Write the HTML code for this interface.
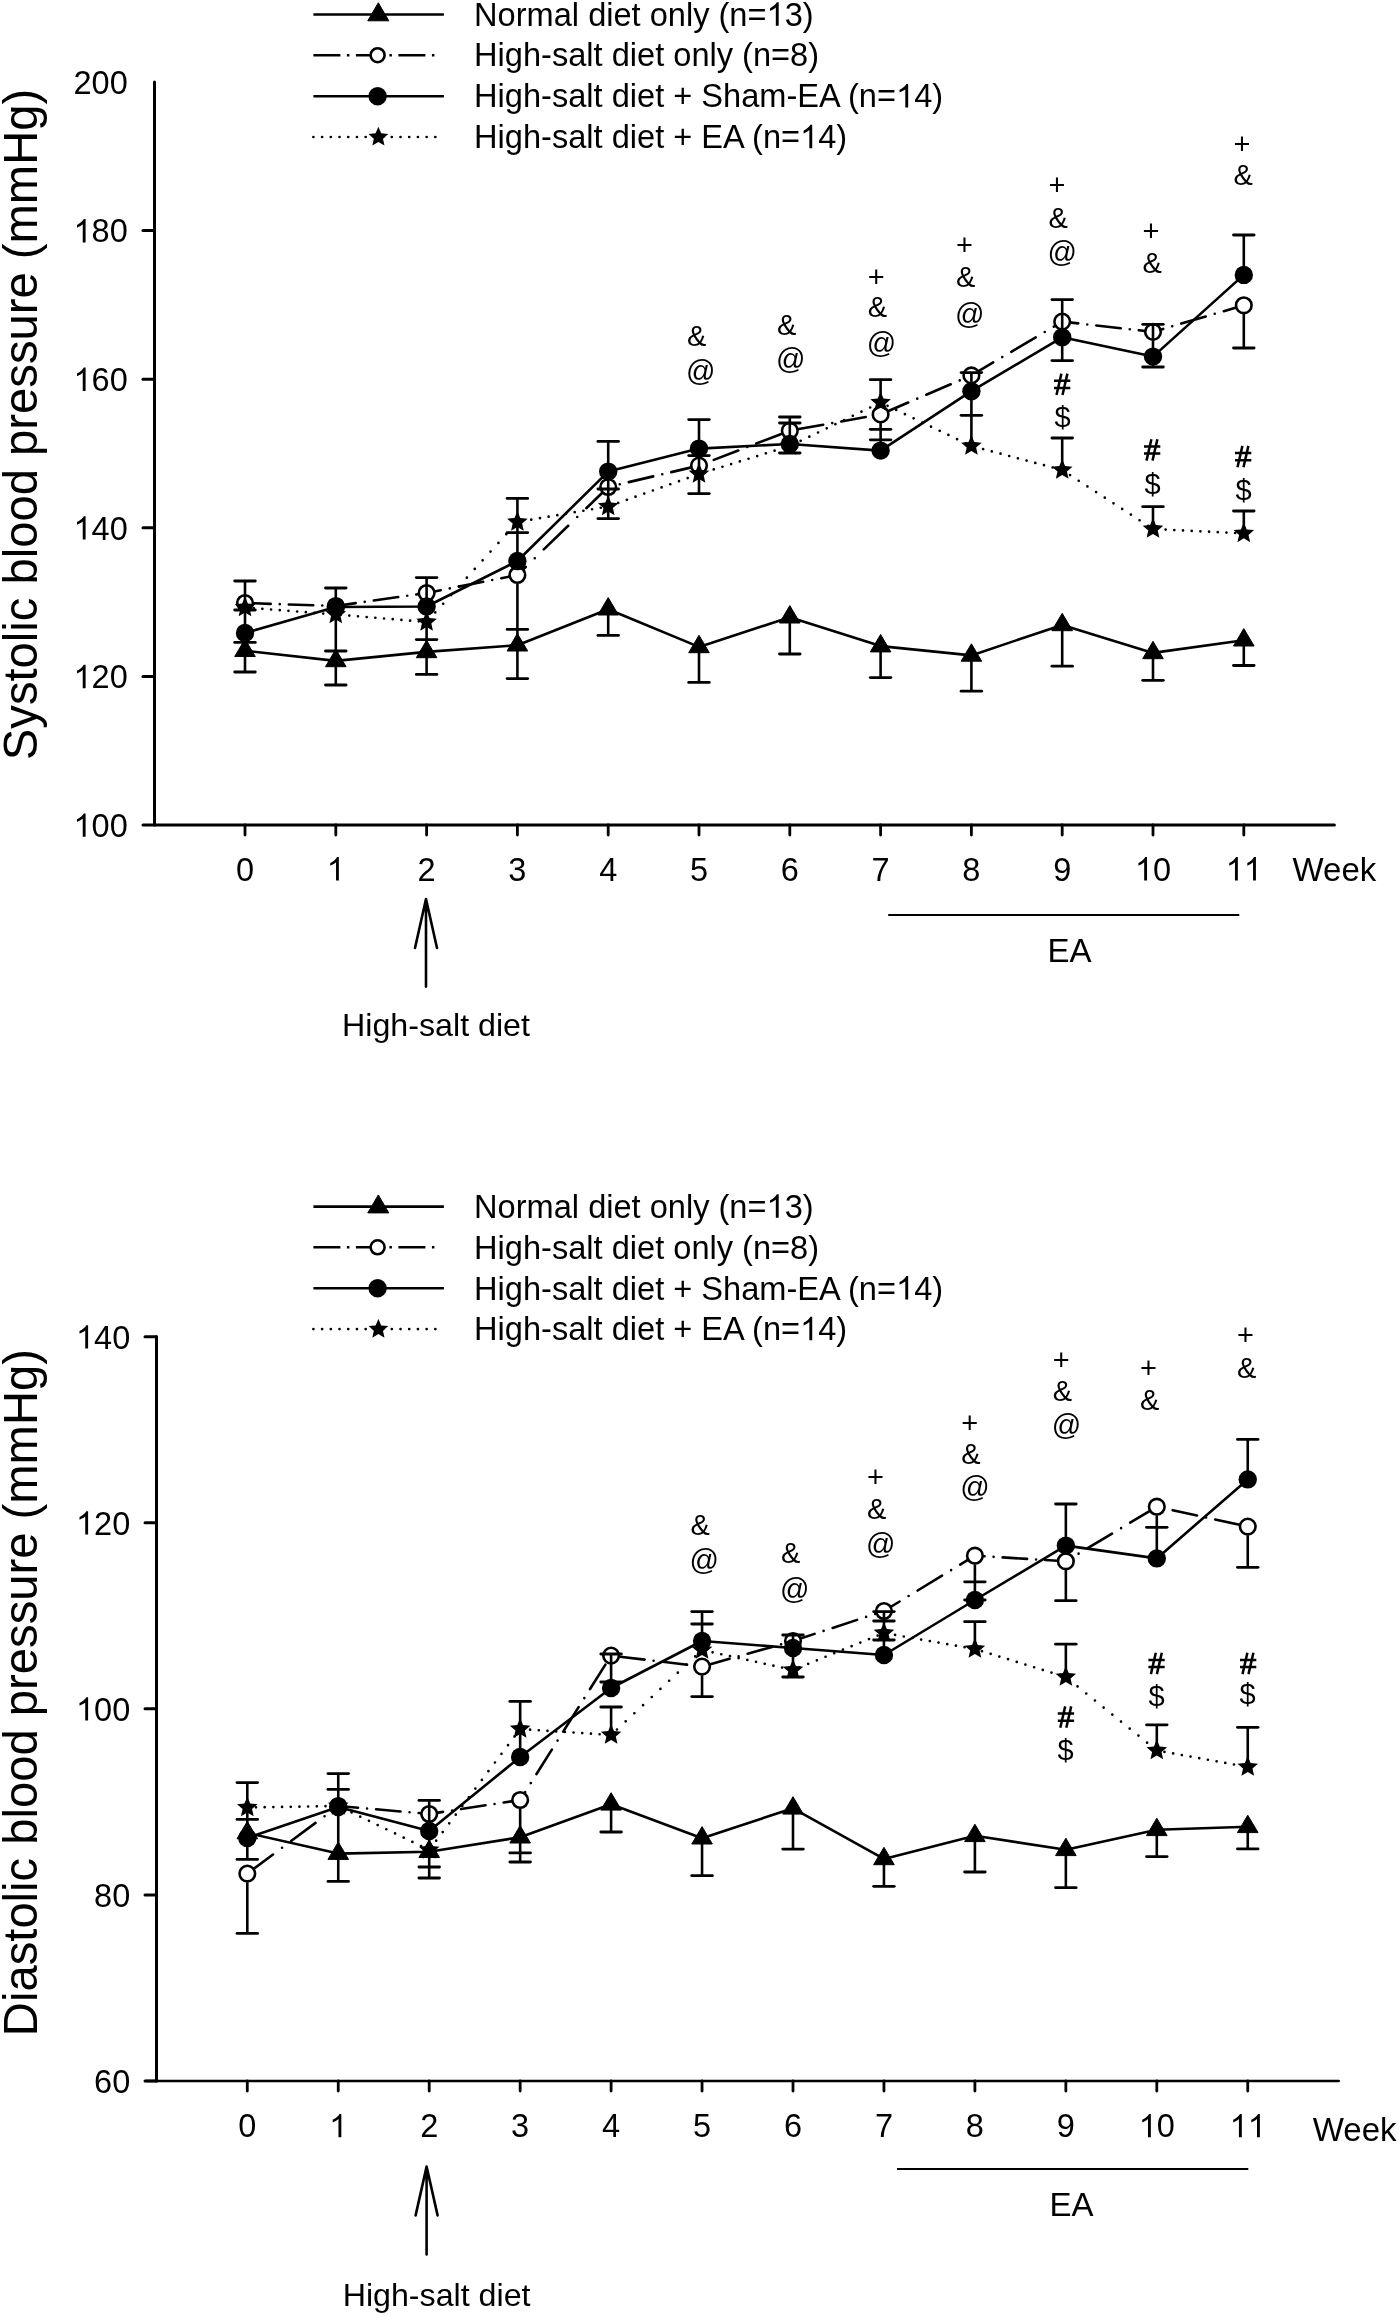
<!DOCTYPE html>
<html><head><meta charset="utf-8"><style>
html,body{margin:0;padding:0;background:#fff;}
svg{display:block;}
text{font-family:"Liberation Sans", sans-serif;fill:#000;}
body{-webkit-font-smoothing:antialiased;}
</style></head><body>
<svg width="1400" height="2316" viewBox="0 0 1400 2316"><g style="filter:opacity(1)">
<rect width="1400" height="2316" fill="#fff"/>
<line x1="313.4" y1="14.5" x2="443.9" y2="14.5" stroke="#000" stroke-width="2.6" fill="none" stroke-linejoin="round"/>
<polygon points="378.30,2.80 388.80,20.80 367.80,20.80" fill="#000" stroke="#000" stroke-width="1" stroke-linejoin="round"/>
<line x1="313.4" y1="55.2" x2="436" y2="55.2" stroke="#000" stroke-width="2.6" fill="none" stroke-dasharray="27 6.5 2.5 6.5"/>
<circle cx="377.60" cy="55.20" r="7.0" fill="#fff" stroke="#000" stroke-width="2.6"/>
<line x1="313.4" y1="96.2" x2="443.9" y2="96.2" stroke="#000" stroke-width="2.6" fill="none" stroke-linejoin="round"/>
<circle cx="377.60" cy="96.20" r="9.2" fill="#000"/>
<line x1="313.4" y1="137.0" x2="443.9" y2="137.0" stroke="#000" stroke-width="2.7" fill="none" stroke-dasharray="0.01 8.7" stroke-linecap="round"/>
<polygon points="378.40,126.80 381.21,133.33 388.29,133.99 382.95,138.68 384.51,145.61 378.40,141.98 372.29,145.61 373.85,138.68 368.51,133.99 375.59,133.33" fill="#000"/>
<text x="474.10" y="25.70" font-size="32.6" text-anchor="start" >Normal diet only (n=</text>
<path d="M778.68,25.70 L775.82,25.70 L775.82,7.44 Q774.78,8.43 773.10,9.42 Q771.41,10.40 770.06,10.90 L770.06,8.13 Q772.49,6.98 774.31,5.36 Q776.12,3.73 776.88,2.21 L778.68,2.21 Z" fill="#000"/>
<text x="784.66" y="25.70" font-size="32.6" text-anchor="start" >3)</text>
<text x="474.10" y="66.40" font-size="32.6" text-anchor="start" >High-salt diet only (n=8)</text>
<text x="474.10" y="107.40" font-size="32.6" text-anchor="start" >High-salt diet + Sham-EA (n=</text>
<path d="M908.17,107.40 L905.30,107.40 L905.30,89.14 Q904.27,90.13 902.58,91.12 Q900.89,92.10 899.54,92.60 L899.54,89.83 Q901.98,88.68 903.79,87.06 Q905.60,85.43 906.37,83.91 L908.17,83.91 Z" fill="#000"/>
<text x="914.15" y="107.40" font-size="32.6" text-anchor="start" >4)</text>
<text x="474.10" y="148.20" font-size="32.6" text-anchor="start" >High-salt diet + EA (n=</text>
<path d="M812.21,148.20 L809.35,148.20 L809.35,129.94 Q808.31,130.93 806.63,131.92 Q804.94,132.90 803.59,133.40 L803.59,130.63 Q806.02,129.48 807.84,127.86 Q809.65,126.23 810.42,124.71 L812.21,124.71 Z" fill="#000"/>
<text x="818.19" y="148.20" font-size="32.6" text-anchor="start" >4)</text>
<line x1="154.5" y1="82" x2="154.5" y2="825" stroke="#000" stroke-width="3" stroke-linecap="round"/>
<line x1="155.8" y1="825" x2="1334.4" y2="825" stroke="#000" stroke-width="3" stroke-linecap="round"/>
<text x="73.49" y="93.80" font-size="32.5">2</text>
<text x="91.56" y="93.80" font-size="32.5">0</text>
<text x="109.63" y="93.80" font-size="32.5">0</text>
<line x1="143.0" y1="230.6" x2="154.5" y2="230.6" stroke="#000" stroke-width="3" stroke-linecap="round"/>
<path d="M85.60,242.40 L82.74,242.40 L82.74,224.20 Q81.71,225.18 80.03,226.17 Q78.35,227.15 77.00,227.64 L77.00,224.88 Q79.43,223.74 81.23,222.12 Q83.04,220.50 83.80,218.98 L85.60,218.98 Z" fill="#000"/>
<text x="91.56" y="242.40" font-size="32.5">8</text>
<text x="109.63" y="242.40" font-size="32.5">0</text>
<line x1="143.0" y1="379.2" x2="154.5" y2="379.2" stroke="#000" stroke-width="3" stroke-linecap="round"/>
<path d="M85.60,391.00 L82.74,391.00 L82.74,372.80 Q81.71,373.78 80.03,374.77 Q78.35,375.75 77.00,376.24 L77.00,373.48 Q79.43,372.34 81.23,370.72 Q83.04,369.10 83.80,367.58 L85.60,367.58 Z" fill="#000"/>
<text x="91.56" y="391.00" font-size="32.5">6</text>
<text x="109.63" y="391.00" font-size="32.5">0</text>
<line x1="143.0" y1="527.8" x2="154.5" y2="527.8" stroke="#000" stroke-width="3" stroke-linecap="round"/>
<path d="M85.60,539.60 L82.74,539.60 L82.74,521.40 Q81.71,522.38 80.03,523.37 Q78.35,524.35 77.00,524.84 L77.00,522.08 Q79.43,520.94 81.23,519.32 Q83.04,517.70 83.80,516.18 L85.60,516.18 Z" fill="#000"/>
<text x="91.56" y="539.60" font-size="32.5">4</text>
<text x="109.63" y="539.60" font-size="32.5">0</text>
<line x1="143.0" y1="676.4" x2="154.5" y2="676.4" stroke="#000" stroke-width="3" stroke-linecap="round"/>
<path d="M85.60,688.20 L82.74,688.20 L82.74,670.00 Q81.71,670.98 80.03,671.97 Q78.35,672.95 77.00,673.44 L77.00,670.68 Q79.43,669.54 81.23,667.92 Q83.04,666.30 83.80,664.78 L85.60,664.78 Z" fill="#000"/>
<text x="91.56" y="688.20" font-size="32.5">2</text>
<text x="109.63" y="688.20" font-size="32.5">0</text>
<line x1="143.0" y1="825" x2="154.5" y2="825" stroke="#000" stroke-width="3" stroke-linecap="round"/>
<path d="M85.60,836.80 L82.74,836.80 L82.74,818.60 Q81.71,819.58 80.03,820.57 Q78.35,821.55 77.00,822.04 L77.00,819.28 Q79.43,818.14 81.23,816.52 Q83.04,814.90 83.80,813.38 L85.60,813.38 Z" fill="#000"/>
<text x="91.56" y="836.80" font-size="32.5">0</text>
<text x="109.63" y="836.80" font-size="32.5">0</text>
<line x1="245.00" y1="825" x2="245.00" y2="835" stroke="#000" stroke-width="2.8" stroke-linecap="round"/>
<text x="235.97" y="880.50" font-size="32.5">0</text>
<line x1="335.80" y1="825" x2="335.80" y2="835" stroke="#000" stroke-width="2.8" stroke-linecap="round"/>
<path d="M338.87,880.50 L336.02,880.50 L336.02,862.30 Q334.99,863.28 333.30,864.27 Q331.62,865.25 330.27,865.74 L330.27,862.98 Q332.70,861.84 334.51,860.22 Q336.32,858.60 337.08,857.08 L338.87,857.08 Z" fill="#000"/>
<line x1="426.60" y1="825" x2="426.60" y2="835" stroke="#000" stroke-width="2.8" stroke-linecap="round"/>
<text x="417.56" y="880.50" font-size="32.5">2</text>
<line x1="517.40" y1="825" x2="517.40" y2="835" stroke="#000" stroke-width="2.8" stroke-linecap="round"/>
<text x="508.36" y="880.50" font-size="32.5">3</text>
<line x1="608.20" y1="825" x2="608.20" y2="835" stroke="#000" stroke-width="2.8" stroke-linecap="round"/>
<text x="599.17" y="880.50" font-size="32.5">4</text>
<line x1="699.00" y1="825" x2="699.00" y2="835" stroke="#000" stroke-width="2.8" stroke-linecap="round"/>
<text x="689.97" y="880.50" font-size="32.5">5</text>
<line x1="789.80" y1="825" x2="789.80" y2="835" stroke="#000" stroke-width="2.8" stroke-linecap="round"/>
<text x="780.76" y="880.50" font-size="32.5">6</text>
<line x1="880.60" y1="825" x2="880.60" y2="835" stroke="#000" stroke-width="2.8" stroke-linecap="round"/>
<text x="871.57" y="880.50" font-size="32.5">7</text>
<line x1="971.40" y1="825" x2="971.40" y2="835" stroke="#000" stroke-width="2.8" stroke-linecap="round"/>
<text x="962.37" y="880.50" font-size="32.5">8</text>
<line x1="1062.20" y1="825" x2="1062.20" y2="835" stroke="#000" stroke-width="2.8" stroke-linecap="round"/>
<text x="1053.16" y="880.50" font-size="32.5">9</text>
<line x1="1153.00" y1="825" x2="1153.00" y2="835" stroke="#000" stroke-width="2.8" stroke-linecap="round"/>
<path d="M1147.04,880.50 L1144.18,880.50 L1144.18,862.30 Q1143.15,863.28 1141.47,864.27 Q1139.79,865.25 1138.44,865.74 L1138.44,862.98 Q1140.87,861.84 1142.67,860.22 Q1144.48,858.60 1145.24,857.08 L1147.04,857.08 Z" fill="#000"/>
<text x="1153.00" y="880.50" font-size="32.5">0</text>
<line x1="1243.80" y1="825" x2="1243.80" y2="835" stroke="#000" stroke-width="2.8" stroke-linecap="round"/>
<path d="M1237.84,880.50 L1234.98,880.50 L1234.98,862.30 Q1233.95,863.28 1232.27,864.27 Q1230.59,865.25 1229.24,865.74 L1229.24,862.98 Q1231.67,861.84 1233.47,860.22 Q1235.28,858.60 1236.04,857.08 L1237.84,857.08 Z" fill="#000"/>
<path d="M1255.91,880.50 L1253.05,880.50 L1253.05,862.30 Q1252.02,863.28 1250.34,864.27 Q1248.66,865.25 1247.31,865.74 L1247.31,862.98 Q1249.74,861.84 1251.54,860.22 Q1253.35,858.60 1254.11,857.08 L1255.91,857.08 Z" fill="#000"/>
<text x="1292.50" y="880.70" font-size="33" text-anchor="start" >Week</text>
<line x1="888.2" y1="915" x2="1239.3" y2="915" stroke="#000" stroke-width="2.2"/>
<text x="1069.60" y="961.70" font-size="33" text-anchor="middle" >EA</text>
<path d="M426,899 L426,986.6 M415,948 L426,899 L437,948" stroke="#000" stroke-width="2.6" fill="none" stroke-linecap="round" stroke-linejoin="miter"/>
<text x="436.00" y="1036.30" font-size="32.2" text-anchor="middle" >High-salt diet</text>
<text x="0" y="0" font-size="47.2" text-anchor="middle" transform="translate(36.6,424.5) rotate(-90)">Systolic blood pressure (mmHg)</text>
<path d="M246.30,603.04L270.70,603.85M279.75,604.15L279.75,604.15M288.80,604.45L313.20,605.25M322.25,605.55L322.25,605.55M331.30,605.85L335.80,606.00M335.80,606.00L355.70,603.15M364.75,601.86L364.75,601.86M373.80,600.56L398.20,597.07M407.25,595.77L407.25,595.77M416.30,594.47L426.60,593.00M426.60,593.00L440.70,590.20M449.75,588.41L449.75,588.41M458.80,586.62L483.20,581.78M492.25,579.99L492.25,579.99M501.30,578.19L517.40,575.00M517.40,575.00L525.70,566.96M534.75,558.19L534.75,558.19M543.80,549.41L568.20,525.77M577.25,517.00L577.25,517.00M586.30,508.22L608.20,487.00M608.20,487.00L610.70,486.41M619.75,484.28L619.75,484.28M628.80,482.14L653.20,476.39M662.25,474.26L662.25,474.26M671.30,472.13L695.70,466.38M704.75,463.39L704.75,463.39M713.80,459.91L738.20,450.53M747.25,447.05L747.25,447.05M756.30,443.58L780.70,434.20M789.75,430.72L789.75,430.72M798.80,429.08L823.20,424.70M832.25,423.08L832.25,423.08M841.30,421.45L865.70,417.07M874.75,415.45L874.75,415.45M883.80,413.03L908.20,402.55M917.25,398.66L917.25,398.66M926.30,394.77L950.70,384.29M959.75,380.40L959.75,380.40M968.80,376.52L971.40,375.40M971.40,375.40L993.20,362.48M1002.25,357.12L1002.25,357.12M1011.30,351.76L1035.70,337.30M1044.75,331.94L1044.75,331.94M1053.80,326.58L1062.20,321.60M1062.20,321.60L1078.20,323.41M1087.25,324.44L1087.25,324.44M1096.30,325.47L1120.70,328.24M1129.75,329.26L1129.75,329.26M1138.80,330.29L1153.00,331.90M1153.00,331.90L1163.20,328.91M1172.25,326.26L1172.25,326.26M1181.30,323.61L1205.70,316.46M1214.75,313.81L1214.75,313.81M1223.80,311.16L1243.80,305.30" stroke="#000" stroke-width="2.6" fill="none" stroke-linecap="round"/>
<path d="M245.00,607.50L245.00,607.50M253.69,608.17L253.69,608.17M262.38,608.84L262.38,608.84M271.07,609.51L271.07,609.51M279.76,610.18L279.76,610.18M288.45,610.85L288.45,610.85M297.14,611.52L297.14,611.52M305.83,612.19L305.83,612.19M314.52,612.86L314.52,612.86M323.21,613.53L323.21,613.53M331.90,614.20L331.90,614.20M340.59,614.90L340.59,614.90M349.28,615.61L349.28,615.61M357.97,616.33L357.97,616.33M366.66,617.05L366.66,617.05M375.35,617.77L375.35,617.77M384.04,618.48L384.04,618.48M392.73,619.20L392.73,619.20M401.42,619.92L401.42,619.92M410.11,620.64L410.11,620.64M418.80,621.36L418.80,621.36M427.41,621.11L427.41,621.11M435.30,612.42L435.30,612.42M443.19,603.73L443.19,603.73M451.08,595.04L451.08,595.04M458.97,586.35L458.97,586.35M466.86,577.66L466.86,577.66M474.75,568.97L474.75,568.97M482.64,560.28L482.64,560.28M490.53,551.59L490.53,551.59M498.42,542.90L498.42,542.90M506.31,534.21L506.31,534.21M514.20,525.52L514.20,525.52M522.57,521.12L522.57,521.12M531.26,519.63L531.26,519.63M539.95,518.15L539.95,518.15M548.64,516.67L548.64,516.67M557.33,515.18L557.33,515.18M566.02,513.70L566.02,513.70M574.71,512.22L574.71,512.22M583.40,510.73L583.40,510.73M592.09,509.25L592.09,509.25M600.78,507.77L600.78,507.77M609.47,506.05L609.47,506.05M618.16,502.94L618.16,502.94M626.85,499.82L626.85,499.82M635.54,496.71L635.54,496.71M644.23,493.60L644.23,493.60M652.92,490.49L652.92,490.49M661.61,487.38L661.61,487.38M670.30,484.27L670.30,484.27M678.99,481.16L678.99,481.16M687.68,478.05L687.68,478.05M696.37,474.94L696.37,474.94M705.06,472.13L705.06,472.13M713.75,469.45L713.75,469.45M722.44,466.77L722.44,466.77M731.13,464.09L731.13,464.09M739.82,461.41L739.82,461.41M748.51,458.73L748.51,458.73M757.20,456.05L757.20,456.05M765.89,453.37L765.89,453.37M774.58,450.69L774.58,450.69M783.27,448.01L783.27,448.01M791.96,444.97L791.96,444.97M800.65,440.80L800.65,440.80M809.34,436.64L809.34,436.64M818.03,432.48L818.03,432.48M826.72,428.31L826.72,428.31M835.41,424.15L835.41,424.15M844.10,419.99L844.10,419.99M852.79,415.82L852.79,415.82M861.48,411.66L861.48,411.66M870.17,407.50L870.17,407.50M878.86,403.33L878.86,403.33M887.55,405.83L887.55,405.83M896.24,409.99L896.24,409.99M904.93,414.16L904.93,414.16M913.62,418.32L913.62,418.32M922.31,422.48L922.31,422.48M931.00,426.65L931.00,426.65M939.69,430.81L939.69,430.81M948.38,434.97L948.38,434.97M957.07,439.13L957.07,439.13M965.76,443.30L965.76,443.30M974.45,446.81L974.45,446.81M983.14,449.10L983.14,449.10M991.83,451.40L991.83,451.40M1000.52,453.70L1000.52,453.70M1009.21,455.99L1009.21,455.99M1017.90,458.29L1017.90,458.29M1026.59,460.59L1026.59,460.59M1035.28,462.88L1035.28,462.88M1043.97,465.18L1043.97,465.18M1052.66,467.48L1052.66,467.48M1061.35,469.78L1061.35,469.78M1070.04,475.09L1070.04,475.09M1078.73,480.74L1078.73,480.74M1087.42,486.39L1087.42,486.39M1096.11,492.03L1096.11,492.03M1104.80,497.68L1104.80,497.68M1113.49,503.33L1113.49,503.33M1122.18,508.97L1122.18,508.97M1130.87,514.62L1130.87,514.62M1139.56,520.27L1139.56,520.27M1148.25,525.91L1148.25,525.91M1156.94,529.19L1156.94,529.19M1165.63,529.61L1165.63,529.61M1174.32,530.03L1174.32,530.03M1183.01,530.45L1183.01,530.45M1191.70,530.88L1191.70,530.88M1200.39,531.30L1200.39,531.30M1209.08,531.72L1209.08,531.72M1217.77,532.14L1217.77,532.14M1226.46,532.56L1226.46,532.56M1235.15,532.98L1235.15,532.98" stroke="#000" stroke-width="2.7" fill="none" stroke-linecap="round"/>
<polyline points="245.00,633 335.80,607 426.60,606.5 517.40,561 608.20,471.6 699.00,448.6 789.80,444 880.60,450.6 971.40,391.2 1062.20,337.3 1153.00,356.6 1243.80,274.9" stroke="#000" stroke-width="2.6" fill="none" stroke-linejoin="round"/>
<polyline points="245.00,650.6999999999999 335.80,660.9 426.60,651.9 517.40,645.1999999999999 608.20,609.1999999999999 699.00,646.9 789.80,617.1999999999999 880.60,646.1 971.40,655.4 1062.20,624.9 1153.00,652.9 1243.80,640.1999999999999" stroke="#000" stroke-width="2.6" fill="none" stroke-linejoin="round"/>
<circle cx="245.00" cy="603.00" r="7.8" fill="#fff" stroke="#000" stroke-width="2.6"/>
<circle cx="335.80" cy="606.00" r="7.8" fill="#fff" stroke="#000" stroke-width="2.6"/>
<circle cx="426.60" cy="593.00" r="7.8" fill="#fff" stroke="#000" stroke-width="2.6"/>
<circle cx="517.40" cy="575.00" r="7.8" fill="#fff" stroke="#000" stroke-width="2.6"/>
<circle cx="608.20" cy="487.00" r="7.8" fill="#fff" stroke="#000" stroke-width="2.6"/>
<circle cx="699.00" cy="465.60" r="7.8" fill="#fff" stroke="#000" stroke-width="2.6"/>
<circle cx="789.80" cy="430.70" r="7.8" fill="#fff" stroke="#000" stroke-width="2.6"/>
<circle cx="880.60" cy="414.40" r="7.8" fill="#fff" stroke="#000" stroke-width="2.6"/>
<circle cx="971.40" cy="375.40" r="7.8" fill="#fff" stroke="#000" stroke-width="2.6"/>
<circle cx="1062.20" cy="321.60" r="7.8" fill="#fff" stroke="#000" stroke-width="2.6"/>
<circle cx="1153.00" cy="331.90" r="7.8" fill="#fff" stroke="#000" stroke-width="2.6"/>
<circle cx="1243.80" cy="305.30" r="7.8" fill="#fff" stroke="#000" stroke-width="2.6"/>
<polygon points="245.00,596.70 247.92,603.48 255.27,604.16 249.72,609.04 251.35,616.24 245.00,612.47 238.65,616.24 240.28,609.04 234.73,604.16 242.08,603.48" fill="#000"/>
<polygon points="335.80,603.70 338.72,610.48 346.07,611.16 340.52,616.04 342.15,623.24 335.80,619.47 329.45,623.24 331.08,616.04 325.53,611.16 332.88,610.48" fill="#000"/>
<polygon points="426.60,611.20 429.52,617.98 436.87,618.66 431.32,623.54 432.95,630.74 426.60,626.97 420.25,630.74 421.88,623.54 416.33,618.66 423.68,617.98" fill="#000"/>
<polygon points="517.40,511.20 520.32,517.98 527.67,518.66 522.12,523.54 523.75,530.74 517.40,526.97 511.05,530.74 512.68,523.54 507.13,518.66 514.48,517.98" fill="#000"/>
<polygon points="608.20,495.70 611.12,502.48 618.47,503.16 612.92,508.04 614.55,515.24 608.20,511.47 601.85,515.24 603.48,508.04 597.93,503.16 605.28,502.48" fill="#000"/>
<polygon points="699.00,463.20 701.92,469.98 709.27,470.66 703.72,475.54 705.35,482.74 699.00,478.97 692.65,482.74 694.28,475.54 688.73,470.66 696.08,469.98" fill="#000"/>
<polygon points="789.80,435.20 792.72,441.98 800.07,442.66 794.52,447.54 796.15,454.74 789.80,450.97 783.45,454.74 785.08,447.54 779.53,442.66 786.88,441.98" fill="#000"/>
<polygon points="880.60,391.70 883.52,398.48 890.87,399.16 885.32,404.04 886.95,411.24 880.60,407.47 874.25,411.24 875.88,404.04 870.33,399.16 877.68,398.48" fill="#000"/>
<polygon points="971.40,435.20 974.32,441.98 981.67,442.66 976.12,447.54 977.75,454.74 971.40,450.97 965.05,454.74 966.68,447.54 961.13,442.66 968.48,441.98" fill="#000"/>
<polygon points="1062.20,459.20 1065.12,465.98 1072.47,466.66 1066.92,471.54 1068.55,478.74 1062.20,474.97 1055.85,478.74 1057.48,471.54 1051.93,466.66 1059.28,465.98" fill="#000"/>
<polygon points="1153.00,518.20 1155.92,524.98 1163.27,525.66 1157.72,530.54 1159.35,537.74 1153.00,533.97 1146.65,537.74 1148.28,530.54 1142.73,525.66 1150.08,524.98" fill="#000"/>
<polygon points="1243.80,522.60 1246.72,529.38 1254.07,530.06 1248.52,534.94 1250.15,542.14 1243.80,538.37 1237.45,542.14 1239.08,534.94 1233.53,530.06 1240.88,529.38" fill="#000"/>
<circle cx="245.00" cy="633.00" r="9.2" fill="#000"/>
<circle cx="335.80" cy="607.00" r="9.2" fill="#000"/>
<circle cx="426.60" cy="606.50" r="9.2" fill="#000"/>
<circle cx="517.40" cy="561.00" r="9.2" fill="#000"/>
<circle cx="608.20" cy="471.60" r="9.2" fill="#000"/>
<circle cx="699.00" cy="448.60" r="9.2" fill="#000"/>
<circle cx="789.80" cy="444.00" r="9.2" fill="#000"/>
<circle cx="880.60" cy="450.60" r="9.2" fill="#000"/>
<circle cx="971.40" cy="391.20" r="9.2" fill="#000"/>
<circle cx="1062.20" cy="337.30" r="9.2" fill="#000"/>
<circle cx="1153.00" cy="356.60" r="9.2" fill="#000"/>
<circle cx="1243.80" cy="274.90" r="9.2" fill="#000"/>
<polygon points="245.00,639.10 255.30,656.50 234.70,656.50" fill="#000" stroke="#000" stroke-width="1" stroke-linejoin="round"/>
<polygon points="335.80,649.30 346.10,666.70 325.50,666.70" fill="#000" stroke="#000" stroke-width="1" stroke-linejoin="round"/>
<polygon points="426.60,640.30 436.90,657.70 416.30,657.70" fill="#000" stroke="#000" stroke-width="1" stroke-linejoin="round"/>
<polygon points="517.40,633.60 527.70,651.00 507.10,651.00" fill="#000" stroke="#000" stroke-width="1" stroke-linejoin="round"/>
<polygon points="608.20,597.60 618.50,615.00 597.90,615.00" fill="#000" stroke="#000" stroke-width="1" stroke-linejoin="round"/>
<polygon points="699.00,635.30 709.30,652.70 688.70,652.70" fill="#000" stroke="#000" stroke-width="1" stroke-linejoin="round"/>
<polygon points="789.80,605.60 800.10,623.00 779.50,623.00" fill="#000" stroke="#000" stroke-width="1" stroke-linejoin="round"/>
<polygon points="880.60,634.50 890.90,651.90 870.30,651.90" fill="#000" stroke="#000" stroke-width="1" stroke-linejoin="round"/>
<polygon points="971.40,643.80 981.70,661.20 961.10,661.20" fill="#000" stroke="#000" stroke-width="1" stroke-linejoin="round"/>
<polygon points="1062.20,613.30 1072.50,630.70 1051.90,630.70" fill="#000" stroke="#000" stroke-width="1" stroke-linejoin="round"/>
<polygon points="1153.00,641.30 1163.30,658.70 1142.70,658.70" fill="#000" stroke="#000" stroke-width="1" stroke-linejoin="round"/>
<polygon points="1243.80,628.60 1254.10,646.00 1233.50,646.00" fill="#000" stroke="#000" stroke-width="1" stroke-linejoin="round"/>
<line x1="245.00" y1="581" x2="245.00" y2="672" stroke="#000" stroke-width="2.6"/>
<line x1="234.70" y1="581" x2="255.30" y2="581" stroke="#000" stroke-width="2.8" stroke-linecap="round"/>
<line x1="234.70" y1="610" x2="255.30" y2="610" stroke="#000" stroke-width="2.8" stroke-linecap="round"/>
<line x1="234.70" y1="642.4" x2="255.30" y2="642.4" stroke="#000" stroke-width="2.8" stroke-linecap="round"/>
<line x1="234.70" y1="672" x2="255.30" y2="672" stroke="#000" stroke-width="2.8" stroke-linecap="round"/>
<line x1="335.80" y1="588" x2="335.80" y2="685" stroke="#000" stroke-width="2.6"/>
<line x1="325.50" y1="588" x2="346.10" y2="588" stroke="#000" stroke-width="2.8" stroke-linecap="round"/>
<line x1="325.50" y1="651" x2="346.10" y2="651" stroke="#000" stroke-width="2.8" stroke-linecap="round"/>
<line x1="325.50" y1="685" x2="346.10" y2="685" stroke="#000" stroke-width="2.8" stroke-linecap="round"/>
<line x1="426.60" y1="577.6" x2="426.60" y2="674.4" stroke="#000" stroke-width="2.6"/>
<line x1="416.30" y1="577.6" x2="436.90" y2="577.6" stroke="#000" stroke-width="2.8" stroke-linecap="round"/>
<line x1="416.30" y1="639.6" x2="436.90" y2="639.6" stroke="#000" stroke-width="2.8" stroke-linecap="round"/>
<line x1="416.30" y1="674.4" x2="436.90" y2="674.4" stroke="#000" stroke-width="2.8" stroke-linecap="round"/>
<line x1="517.40" y1="498.4" x2="517.40" y2="566" stroke="#000" stroke-width="2.6"/>
<line x1="517.40" y1="583.7" x2="517.40" y2="678.6" stroke="#000" stroke-width="2.6"/>
<line x1="507.10" y1="498.4" x2="527.70" y2="498.4" stroke="#000" stroke-width="2.8" stroke-linecap="round"/>
<line x1="507.10" y1="532.6" x2="527.70" y2="532.6" stroke="#000" stroke-width="2.8" stroke-linecap="round"/>
<line x1="507.10" y1="629.4" x2="527.70" y2="629.4" stroke="#000" stroke-width="2.8" stroke-linecap="round"/>
<line x1="507.10" y1="678.6" x2="527.70" y2="678.6" stroke="#000" stroke-width="2.8" stroke-linecap="round"/>
<line x1="608.20" y1="441.4" x2="608.20" y2="518.6" stroke="#000" stroke-width="2.6"/>
<line x1="608.20" y1="606" x2="608.20" y2="635.4" stroke="#000" stroke-width="2.6"/>
<line x1="597.90" y1="441.4" x2="618.50" y2="441.4" stroke="#000" stroke-width="2.8" stroke-linecap="round"/>
<line x1="597.90" y1="489" x2="618.50" y2="489" stroke="#000" stroke-width="2.8" stroke-linecap="round"/>
<line x1="597.90" y1="518.6" x2="618.50" y2="518.6" stroke="#000" stroke-width="2.8" stroke-linecap="round"/>
<line x1="597.90" y1="635.4" x2="618.50" y2="635.4" stroke="#000" stroke-width="2.8" stroke-linecap="round"/>
<line x1="699.00" y1="419.6" x2="699.00" y2="493.6" stroke="#000" stroke-width="2.6"/>
<line x1="699.00" y1="644" x2="699.00" y2="682.4" stroke="#000" stroke-width="2.6"/>
<line x1="688.70" y1="419.6" x2="709.30" y2="419.6" stroke="#000" stroke-width="2.8" stroke-linecap="round"/>
<line x1="688.70" y1="455.6" x2="709.30" y2="455.6" stroke="#000" stroke-width="2.8" stroke-linecap="round"/>
<line x1="688.70" y1="493.6" x2="709.30" y2="493.6" stroke="#000" stroke-width="2.8" stroke-linecap="round"/>
<line x1="688.70" y1="682.4" x2="709.30" y2="682.4" stroke="#000" stroke-width="2.8" stroke-linecap="round"/>
<line x1="789.80" y1="417" x2="789.80" y2="453" stroke="#000" stroke-width="2.6"/>
<line x1="789.80" y1="614" x2="789.80" y2="654" stroke="#000" stroke-width="2.6"/>
<line x1="779.50" y1="417" x2="800.10" y2="417" stroke="#000" stroke-width="2.8" stroke-linecap="round"/>
<line x1="779.50" y1="423" x2="800.10" y2="423" stroke="#000" stroke-width="2.8" stroke-linecap="round"/>
<line x1="779.50" y1="453" x2="800.10" y2="453" stroke="#000" stroke-width="2.8" stroke-linecap="round"/>
<line x1="779.50" y1="654" x2="800.10" y2="654" stroke="#000" stroke-width="2.8" stroke-linecap="round"/>
<line x1="880.60" y1="379.7" x2="880.60" y2="401.4" stroke="#000" stroke-width="2.6"/>
<line x1="880.60" y1="423.1" x2="880.60" y2="451" stroke="#000" stroke-width="2.6"/>
<line x1="880.60" y1="643" x2="880.60" y2="677.6" stroke="#000" stroke-width="2.6"/>
<line x1="870.30" y1="379.7" x2="890.90" y2="379.7" stroke="#000" stroke-width="2.8" stroke-linecap="round"/>
<line x1="870.30" y1="429.3" x2="890.90" y2="429.3" stroke="#000" stroke-width="2.8" stroke-linecap="round"/>
<line x1="870.30" y1="439.8" x2="890.90" y2="439.8" stroke="#000" stroke-width="2.8" stroke-linecap="round"/>
<line x1="870.30" y1="677.6" x2="890.90" y2="677.6" stroke="#000" stroke-width="2.8" stroke-linecap="round"/>
<line x1="971.40" y1="372.6" x2="971.40" y2="445" stroke="#000" stroke-width="2.6"/>
<line x1="971.40" y1="652" x2="971.40" y2="691.2" stroke="#000" stroke-width="2.6"/>
<line x1="961.10" y1="372.6" x2="981.70" y2="372.6" stroke="#000" stroke-width="2.8" stroke-linecap="round"/>
<line x1="961.10" y1="415.3" x2="981.70" y2="415.3" stroke="#000" stroke-width="2.8" stroke-linecap="round"/>
<line x1="961.10" y1="691.2" x2="981.70" y2="691.2" stroke="#000" stroke-width="2.8" stroke-linecap="round"/>
<line x1="1062.20" y1="299.6" x2="1062.20" y2="360.6" stroke="#000" stroke-width="2.6"/>
<line x1="1062.20" y1="438" x2="1062.20" y2="469" stroke="#000" stroke-width="2.6"/>
<line x1="1062.20" y1="622" x2="1062.20" y2="666.2" stroke="#000" stroke-width="2.6"/>
<line x1="1051.90" y1="299.6" x2="1072.50" y2="299.6" stroke="#000" stroke-width="2.8" stroke-linecap="round"/>
<line x1="1051.90" y1="360.6" x2="1072.50" y2="360.6" stroke="#000" stroke-width="2.8" stroke-linecap="round"/>
<line x1="1051.90" y1="438" x2="1072.50" y2="438" stroke="#000" stroke-width="2.8" stroke-linecap="round"/>
<line x1="1051.90" y1="666.2" x2="1072.50" y2="666.2" stroke="#000" stroke-width="2.8" stroke-linecap="round"/>
<line x1="1153.00" y1="324.3" x2="1153.00" y2="367" stroke="#000" stroke-width="2.6"/>
<line x1="1153.00" y1="506.7" x2="1153.00" y2="529" stroke="#000" stroke-width="2.6"/>
<line x1="1153.00" y1="650" x2="1153.00" y2="680.3" stroke="#000" stroke-width="2.6"/>
<line x1="1142.70" y1="324.3" x2="1163.30" y2="324.3" stroke="#000" stroke-width="2.8" stroke-linecap="round"/>
<line x1="1142.70" y1="367" x2="1163.30" y2="367" stroke="#000" stroke-width="2.8" stroke-linecap="round"/>
<line x1="1142.70" y1="506.7" x2="1163.30" y2="506.7" stroke="#000" stroke-width="2.8" stroke-linecap="round"/>
<line x1="1142.70" y1="680.3" x2="1163.30" y2="680.3" stroke="#000" stroke-width="2.8" stroke-linecap="round"/>
<line x1="1243.80" y1="235" x2="1243.80" y2="274.9" stroke="#000" stroke-width="2.6"/>
<line x1="1243.80" y1="314" x2="1243.80" y2="348" stroke="#000" stroke-width="2.6"/>
<line x1="1243.80" y1="511" x2="1243.80" y2="533" stroke="#000" stroke-width="2.6"/>
<line x1="1243.80" y1="637" x2="1243.80" y2="665.5" stroke="#000" stroke-width="2.6"/>
<line x1="1233.50" y1="235" x2="1254.10" y2="235" stroke="#000" stroke-width="2.8" stroke-linecap="round"/>
<line x1="1233.50" y1="348" x2="1254.10" y2="348" stroke="#000" stroke-width="2.8" stroke-linecap="round"/>
<line x1="1233.50" y1="511" x2="1254.10" y2="511" stroke="#000" stroke-width="2.8" stroke-linecap="round"/>
<line x1="1233.50" y1="665.5" x2="1254.10" y2="665.5" stroke="#000" stroke-width="2.8" stroke-linecap="round"/>
<text x="687.00" y="345.60" font-size="29" text-anchor="start" >&</text>
<text x="686.00" y="380.60" font-size="29" text-anchor="start" >@</text>
<text x="777.00" y="335.00" font-size="29" text-anchor="start" >&</text>
<text x="776.00" y="369.00" font-size="29" text-anchor="start" >@</text>
<text x="867.80" y="286.60" font-size="29" text-anchor="start" >+</text>
<text x="867.80" y="317.40" font-size="29" text-anchor="start" >&</text>
<text x="866.80" y="353.00" font-size="29" text-anchor="start" >@</text>
<text x="956.00" y="255.00" font-size="29" text-anchor="start" >+</text>
<text x="956.00" y="286.80" font-size="29" text-anchor="start" >&</text>
<text x="955.00" y="324.00" font-size="29" text-anchor="start" >@</text>
<text x="1048.50" y="194.60" font-size="29" text-anchor="start" >+</text>
<text x="1048.50" y="228.30" font-size="29" text-anchor="start" >&</text>
<text x="1047.50" y="261.80" font-size="29" text-anchor="start" >@</text>
<path d="M1061.40,373.60L1056.50,395.00M1067.40,373.60L1062.50,395.00M1054.00,380.80L1070.30,380.80M1054.00,388.00L1070.30,388.00" stroke="#000" stroke-width="2.5" fill="none"/>
<text x="1054.50" y="426.50" font-size="29" text-anchor="start" >$</text>
<text x="1142.60" y="241.00" font-size="29" text-anchor="start" >+</text>
<text x="1142.60" y="273.00" font-size="29" text-anchor="start" >&</text>
<path d="M1151.40,439.20L1146.50,460.60M1157.40,439.20L1152.50,460.60M1144.00,446.40L1160.30,446.40M1144.00,453.60L1160.30,453.60" stroke="#000" stroke-width="2.5" fill="none"/>
<text x="1144.50" y="493.50" font-size="29" text-anchor="start" >$</text>
<text x="1233.40" y="153.70" font-size="29" text-anchor="start" >+</text>
<text x="1233.40" y="184.70" font-size="29" text-anchor="start" >&</text>
<path d="M1242.40,445.90L1237.50,467.30M1248.40,445.90L1243.50,467.30M1235.00,453.10L1251.30,453.10M1235.00,460.30L1251.30,460.30" stroke="#000" stroke-width="2.5" fill="none"/>
<text x="1235.50" y="500.00" font-size="29" text-anchor="start" >$</text>
<line x1="313.4" y1="1206.6" x2="443.9" y2="1206.6" stroke="#000" stroke-width="2.6" fill="none" stroke-linejoin="round"/>
<polygon points="378.30,1194.90 388.80,1212.90 367.80,1212.90" fill="#000" stroke="#000" stroke-width="1" stroke-linejoin="round"/>
<line x1="313.4" y1="1247.3" x2="436" y2="1247.3" stroke="#000" stroke-width="2.6" fill="none" stroke-dasharray="27 6.5 2.5 6.5"/>
<circle cx="377.60" cy="1247.30" r="7.0" fill="#fff" stroke="#000" stroke-width="2.6"/>
<line x1="313.4" y1="1288.3" x2="443.9" y2="1288.3" stroke="#000" stroke-width="2.6" fill="none" stroke-linejoin="round"/>
<circle cx="377.60" cy="1288.30" r="9.2" fill="#000"/>
<line x1="313.4" y1="1329.1" x2="443.9" y2="1329.1" stroke="#000" stroke-width="2.7" fill="none" stroke-dasharray="0.01 8.7" stroke-linecap="round"/>
<polygon points="378.40,1318.90 381.21,1325.43 388.29,1326.09 382.95,1330.78 384.51,1337.71 378.40,1334.08 372.29,1337.71 373.85,1330.78 368.51,1326.09 375.59,1325.43" fill="#000"/>
<text x="474.10" y="1217.80" font-size="32.6" text-anchor="start" >Normal diet only (n=</text>
<path d="M778.68,1217.80 L775.82,1217.80 L775.82,1199.54 Q774.78,1200.53 773.10,1201.52 Q771.41,1202.50 770.06,1203.00 L770.06,1200.23 Q772.49,1199.08 774.31,1197.46 Q776.12,1195.83 776.88,1194.31 L778.68,1194.31 Z" fill="#000"/>
<text x="784.66" y="1217.80" font-size="32.6" text-anchor="start" >3)</text>
<text x="474.10" y="1258.50" font-size="32.6" text-anchor="start" >High-salt diet only (n=8)</text>
<text x="474.10" y="1299.50" font-size="32.6" text-anchor="start" >High-salt diet + Sham-EA (n=</text>
<path d="M908.17,1299.50 L905.30,1299.50 L905.30,1281.24 Q904.27,1282.23 902.58,1283.22 Q900.89,1284.20 899.54,1284.70 L899.54,1281.93 Q901.98,1280.78 903.79,1279.16 Q905.60,1277.53 906.37,1276.01 L908.17,1276.01 Z" fill="#000"/>
<text x="914.15" y="1299.50" font-size="32.6" text-anchor="start" >4)</text>
<text x="474.10" y="1340.30" font-size="32.6" text-anchor="start" >High-salt diet + EA (n=</text>
<path d="M812.21,1340.30 L809.35,1340.30 L809.35,1322.04 Q808.31,1323.03 806.63,1324.02 Q804.94,1325.00 803.59,1325.50 L803.59,1322.73 Q806.02,1321.58 807.84,1319.96 Q809.65,1318.33 810.42,1316.81 L812.21,1316.81 Z" fill="#000"/>
<text x="818.19" y="1340.30" font-size="32.6" text-anchor="start" >4)</text>
<line x1="156.5" y1="1336.8" x2="156.5" y2="2081" stroke="#000" stroke-width="3" stroke-linecap="round"/>
<line x1="146.3" y1="2081" x2="1338.7" y2="2081" stroke="#000" stroke-width="2.6" stroke-linecap="round"/>
<line x1="145.0" y1="1336.8" x2="156.5" y2="1336.8" stroke="#000" stroke-width="3" stroke-linecap="round"/>
<path d="M88.10,1348.60 L85.24,1348.60 L85.24,1330.40 Q84.21,1331.38 82.53,1332.37 Q80.85,1333.35 79.50,1333.84 L79.50,1331.08 Q81.93,1329.94 83.73,1328.32 Q85.54,1326.70 86.30,1325.18 L88.10,1325.18 Z" fill="#000"/>
<text x="94.06" y="1348.60" font-size="32.5">4</text>
<text x="112.13" y="1348.60" font-size="32.5">0</text>
<line x1="145.0" y1="1522.8" x2="156.5" y2="1522.8" stroke="#000" stroke-width="3" stroke-linecap="round"/>
<path d="M88.10,1534.60 L85.24,1534.60 L85.24,1516.40 Q84.21,1517.38 82.53,1518.37 Q80.85,1519.35 79.50,1519.84 L79.50,1517.08 Q81.93,1515.94 83.73,1514.32 Q85.54,1512.70 86.30,1511.18 L88.10,1511.18 Z" fill="#000"/>
<text x="94.06" y="1534.60" font-size="32.5">2</text>
<text x="112.13" y="1534.60" font-size="32.5">0</text>
<line x1="145.0" y1="1708.8" x2="156.5" y2="1708.8" stroke="#000" stroke-width="3" stroke-linecap="round"/>
<path d="M88.10,1720.60 L85.24,1720.60 L85.24,1702.40 Q84.21,1703.38 82.53,1704.37 Q80.85,1705.35 79.50,1705.84 L79.50,1703.08 Q81.93,1701.94 83.73,1700.32 Q85.54,1698.70 86.30,1697.18 L88.10,1697.18 Z" fill="#000"/>
<text x="94.06" y="1720.60" font-size="32.5">0</text>
<text x="112.13" y="1720.60" font-size="32.5">0</text>
<line x1="145.0" y1="1894.9" x2="156.5" y2="1894.9" stroke="#000" stroke-width="3" stroke-linecap="round"/>
<text x="94.06" y="1906.70" font-size="32.5">8</text>
<text x="112.13" y="1906.70" font-size="32.5">0</text>
<line x1="145.0" y1="2081" x2="156.5" y2="2081" stroke="#000" stroke-width="3" stroke-linecap="round"/>
<text x="94.06" y="2092.80" font-size="32.5">6</text>
<text x="112.13" y="2092.80" font-size="32.5">0</text>
<line x1="247.30" y1="2081" x2="247.30" y2="2091" stroke="#000" stroke-width="2.8" stroke-linecap="round"/>
<text x="238.27" y="2137.30" font-size="32.5">0</text>
<line x1="338.25" y1="2081" x2="338.25" y2="2091" stroke="#000" stroke-width="2.8" stroke-linecap="round"/>
<path d="M341.32,2137.30 L338.47,2137.30 L338.47,2119.10 Q337.44,2120.08 335.75,2121.07 Q334.07,2122.05 332.72,2122.54 L332.72,2119.78 Q335.15,2118.64 336.96,2117.02 Q338.77,2115.40 339.53,2113.88 L341.32,2113.88 Z" fill="#000"/>
<line x1="429.20" y1="2081" x2="429.20" y2="2091" stroke="#000" stroke-width="2.8" stroke-linecap="round"/>
<text x="420.17" y="2137.30" font-size="32.5">2</text>
<line x1="520.15" y1="2081" x2="520.15" y2="2091" stroke="#000" stroke-width="2.8" stroke-linecap="round"/>
<text x="511.12" y="2137.30" font-size="32.5">3</text>
<line x1="611.10" y1="2081" x2="611.10" y2="2091" stroke="#000" stroke-width="2.8" stroke-linecap="round"/>
<text x="602.07" y="2137.30" font-size="32.5">4</text>
<line x1="702.05" y1="2081" x2="702.05" y2="2091" stroke="#000" stroke-width="2.8" stroke-linecap="round"/>
<text x="693.01" y="2137.30" font-size="32.5">5</text>
<line x1="793.00" y1="2081" x2="793.00" y2="2091" stroke="#000" stroke-width="2.8" stroke-linecap="round"/>
<text x="783.97" y="2137.30" font-size="32.5">6</text>
<line x1="883.95" y1="2081" x2="883.95" y2="2091" stroke="#000" stroke-width="2.8" stroke-linecap="round"/>
<text x="874.92" y="2137.30" font-size="32.5">7</text>
<line x1="974.90" y1="2081" x2="974.90" y2="2091" stroke="#000" stroke-width="2.8" stroke-linecap="round"/>
<text x="965.87" y="2137.30" font-size="32.5">8</text>
<line x1="1065.85" y1="2081" x2="1065.85" y2="2091" stroke="#000" stroke-width="2.8" stroke-linecap="round"/>
<text x="1056.82" y="2137.30" font-size="32.5">9</text>
<line x1="1156.80" y1="2081" x2="1156.80" y2="2091" stroke="#000" stroke-width="2.8" stroke-linecap="round"/>
<path d="M1150.84,2137.30 L1147.98,2137.30 L1147.98,2119.10 Q1146.95,2120.08 1145.27,2121.07 Q1143.59,2122.05 1142.24,2122.54 L1142.24,2119.78 Q1144.67,2118.64 1146.47,2117.02 Q1148.28,2115.40 1149.04,2113.88 L1150.84,2113.88 Z" fill="#000"/>
<text x="1156.80" y="2137.30" font-size="32.5">0</text>
<line x1="1247.75" y1="2081" x2="1247.75" y2="2091" stroke="#000" stroke-width="2.8" stroke-linecap="round"/>
<path d="M1241.79,2137.30 L1238.93,2137.30 L1238.93,2119.10 Q1237.90,2120.08 1236.22,2121.07 Q1234.54,2122.05 1233.19,2122.54 L1233.19,2119.78 Q1235.62,2118.64 1237.42,2117.02 Q1239.23,2115.40 1239.99,2113.88 L1241.79,2113.88 Z" fill="#000"/>
<path d="M1259.86,2137.30 L1257.00,2137.30 L1257.00,2119.10 Q1255.97,2120.08 1254.29,2121.07 Q1252.61,2122.05 1251.26,2122.54 L1251.26,2119.78 Q1253.69,2118.64 1255.49,2117.02 Q1257.30,2115.40 1258.06,2113.88 L1259.86,2113.88 Z" fill="#000"/>
<text x="1312.80" y="2140.70" font-size="33" text-anchor="start" >Week</text>
<line x1="897" y1="2169" x2="1248.3" y2="2169" stroke="#000" stroke-width="2.2"/>
<text x="1071.60" y="2216.00" font-size="33" text-anchor="middle" >EA</text>
<path d="M426.6,2166.6 L426.6,2254.5 M415.6,2215.4 L426.6,2166.6 L437.6,2215.4" stroke="#000" stroke-width="2.6" fill="none" stroke-linecap="round" stroke-linejoin="miter"/>
<text x="436.60" y="2306.30" font-size="32.2" text-anchor="middle" >High-salt diet</text>
<text x="0" y="0" font-size="47.2" text-anchor="middle" transform="translate(36.8,1692.6) rotate(-90)">Diastolic blood pressure (mmHg)</text>
<path d="M248.60,1872.63L273.00,1854.50M282.05,1847.77L282.05,1847.77M291.10,1841.04L315.50,1822.91M324.55,1816.18L324.55,1816.18M333.60,1809.46L338.25,1806.00M338.25,1806.00L358.00,1807.74M367.05,1808.53L367.05,1808.53M376.10,1809.33L400.50,1811.48M409.55,1812.27L409.55,1812.27M418.60,1813.07L429.20,1814.00M429.20,1814.00L443.00,1811.88M452.05,1810.48L452.05,1810.48M461.10,1809.09L485.50,1805.33M494.55,1803.94L494.55,1803.94M503.60,1802.55L520.15,1800.00M520.15,1800.00L525.09,1792.15M530.79,1783.10L530.79,1783.10M536.49,1774.05L551.86,1749.65M557.56,1740.60L557.56,1740.60M563.26,1731.55L578.63,1707.15M584.33,1698.10L584.33,1698.10M590.03,1689.05L605.40,1664.65M611.10,1655.60L611.10,1655.60M620.15,1656.69L644.55,1659.65M653.60,1660.74L653.60,1660.74M662.65,1661.83L687.05,1664.79M696.10,1665.88L696.10,1665.88M705.15,1665.73L729.55,1658.86M738.60,1656.31L738.60,1656.31M747.65,1653.76L772.05,1646.90M781.10,1644.35L781.10,1644.35M790.15,1641.80L793.00,1641.00M793.00,1641.00L814.55,1633.89M823.60,1630.91L823.60,1630.91M832.65,1627.92L857.05,1619.87M866.10,1616.89L866.10,1616.89M875.15,1613.90L883.95,1611.00M883.95,1611.00L899.55,1601.51M908.60,1596.01L908.60,1596.01M917.65,1590.51L942.05,1575.67M951.10,1570.17L951.10,1570.17M960.15,1564.67L974.90,1555.70M974.90,1555.70L984.55,1556.29M993.60,1556.85L993.60,1556.85M1002.65,1557.41L1027.05,1558.91M1036.10,1559.47L1036.10,1559.47M1045.15,1560.03L1065.85,1561.30M1065.85,1561.30L1069.55,1559.08M1078.60,1553.65L1078.60,1553.65M1087.65,1548.21L1112.05,1533.56M1121.10,1528.13L1121.10,1528.13M1130.15,1522.70L1154.55,1508.05M1163.60,1508.19L1163.60,1508.19M1172.65,1510.17L1197.05,1515.51M1206.10,1517.49L1206.10,1517.49M1215.15,1519.47L1239.55,1524.81" stroke="#000" stroke-width="2.6" fill="none" stroke-linecap="round"/>
<path d="M247.30,1807.50L247.30,1807.50M255.99,1807.36L255.99,1807.36M264.68,1807.21L264.68,1807.21M273.37,1807.07L273.37,1807.07M282.06,1806.93L282.06,1806.93M290.75,1806.78L290.75,1806.78M299.44,1806.64L299.44,1806.64M308.13,1806.50L308.13,1806.50M316.82,1806.35L316.82,1806.35M325.51,1806.21L325.51,1806.21M334.20,1806.07L334.20,1806.07M342.89,1808.24L342.89,1808.24M351.58,1812.45L351.58,1812.45M360.27,1816.65L360.27,1816.65M368.96,1820.86L368.96,1820.86M377.65,1825.06L377.65,1825.06M386.34,1829.27L386.34,1829.27M395.03,1833.47L395.03,1833.47M403.72,1837.67L403.72,1837.67M412.41,1841.88L412.41,1841.88M421.10,1846.08L421.10,1846.08M429.64,1849.41L429.64,1849.41M436.18,1840.72L436.18,1840.72M442.71,1832.03L442.71,1832.03M449.24,1823.34L449.24,1823.34M455.77,1814.65L455.77,1814.65M462.30,1805.96L462.30,1805.96M468.83,1797.27L468.83,1797.27M475.37,1788.58L475.37,1788.58M481.90,1779.89L481.90,1779.89M488.43,1771.20L488.43,1771.20M494.96,1762.51L494.96,1762.51M501.49,1753.82L501.49,1753.82M508.03,1745.13L508.03,1745.13M514.56,1736.44L514.56,1736.44M521.40,1729.08L521.40,1729.08M530.09,1729.66L530.09,1729.66M538.78,1730.23L538.78,1730.23M547.47,1730.80L547.47,1730.80M556.16,1731.38L556.16,1731.38M564.85,1731.95L564.85,1731.95M573.54,1732.52L573.54,1732.52M582.23,1733.10L582.23,1733.10M590.92,1733.67L590.92,1733.67M599.61,1734.24L599.61,1734.24M608.30,1734.82L608.30,1734.82M616.99,1729.50L616.99,1729.50M625.68,1721.37L625.68,1721.37M634.37,1713.25L634.37,1713.25M643.06,1705.13L643.06,1705.13M651.75,1697.01L651.75,1697.01M660.44,1688.89L660.44,1688.89M669.13,1680.77L669.13,1680.77M677.82,1672.64L677.82,1672.64M686.51,1664.52L686.51,1664.52M695.20,1656.40L695.20,1656.40M703.89,1650.40L703.89,1650.40M712.58,1652.32L712.58,1652.32M721.27,1654.23L721.27,1654.23M729.96,1656.14L729.96,1656.14M738.65,1658.05L738.65,1658.05M747.34,1659.96L747.34,1659.96M756.03,1661.87L756.03,1661.87M764.72,1663.78L764.72,1663.78M773.41,1665.69L773.41,1665.69M782.10,1667.60L782.10,1667.60M790.79,1669.51L790.79,1669.51M799.48,1667.36L799.48,1667.36M808.17,1663.83L808.17,1663.83M816.86,1660.29L816.86,1660.29M825.55,1656.76L825.55,1656.76M834.24,1653.22L834.24,1653.22M842.93,1649.69L842.93,1649.69M851.62,1646.15L851.62,1646.15M860.31,1642.62L860.31,1642.62M869.00,1639.08L869.00,1639.08M877.69,1635.55L877.69,1635.55M886.38,1633.43L886.38,1633.43M895.07,1634.96L895.07,1634.96M903.76,1636.48L903.76,1636.48M912.45,1638.01L912.45,1638.01M921.14,1639.54L921.14,1639.54M929.83,1641.07L929.83,1641.07M938.52,1642.60L938.52,1642.60M947.21,1644.13L947.21,1644.13M955.90,1645.66L955.90,1645.66M964.59,1647.19L964.59,1647.19M973.28,1648.72L973.28,1648.72M981.97,1651.18L981.97,1651.18M990.66,1653.85L990.66,1653.85M999.35,1656.53L999.35,1656.53M1008.04,1659.20L1008.04,1659.20M1016.73,1661.88L1016.73,1661.88M1025.42,1664.55L1025.42,1664.55M1034.11,1667.23L1034.11,1667.23M1042.80,1669.90L1042.80,1669.90M1051.49,1672.58L1051.49,1672.58M1060.18,1675.25L1060.18,1675.25M1068.87,1679.44L1068.87,1679.44M1077.56,1686.46L1077.56,1686.46M1086.25,1693.49L1086.25,1693.49M1094.94,1700.51L1094.94,1700.51M1103.63,1707.53L1103.63,1707.53M1112.32,1714.55L1112.32,1714.55M1121.01,1721.58L1121.01,1721.58M1129.70,1728.60L1129.70,1728.60M1138.39,1735.62L1138.39,1735.62M1147.08,1742.64L1147.08,1742.64M1155.77,1749.67L1155.77,1749.67M1164.46,1751.89L1164.46,1751.89M1173.15,1753.47L1173.15,1753.47M1181.84,1755.04L1181.84,1755.04M1190.53,1756.62L1190.53,1756.62M1199.22,1758.20L1199.22,1758.20M1207.91,1759.77L1207.91,1759.77M1216.60,1761.35L1216.60,1761.35M1225.29,1762.93L1225.29,1762.93M1233.98,1764.50L1233.98,1764.50M1242.67,1766.08L1242.67,1766.08" stroke="#000" stroke-width="2.7" fill="none" stroke-linecap="round"/>
<polyline points="247.30,1838 338.25,1807 429.20,1831 520.15,1757 611.10,1688 702.05,1641 793.00,1648 883.95,1655 974.90,1600 1065.85,1545.6 1156.80,1558.4 1247.75,1479.4" stroke="#000" stroke-width="2.6" fill="none" stroke-linejoin="round"/>
<polyline points="247.30,1833.0 338.25,1853.6000000000001 429.20,1851.7 520.15,1837.2 611.10,1804.3000000000002 702.05,1838.2 793.00,1808.3000000000002 883.95,1858.9 974.90,1835.8000000000002 1065.85,1849.8000000000002 1156.80,1829.8000000000002 1247.75,1826.8000000000002" stroke="#000" stroke-width="2.6" fill="none" stroke-linejoin="round"/>
<circle cx="247.30" cy="1873.60" r="7.8" fill="#fff" stroke="#000" stroke-width="2.6"/>
<circle cx="338.25" cy="1806.00" r="7.8" fill="#fff" stroke="#000" stroke-width="2.6"/>
<circle cx="429.20" cy="1814.00" r="7.8" fill="#fff" stroke="#000" stroke-width="2.6"/>
<circle cx="520.15" cy="1800.00" r="7.8" fill="#fff" stroke="#000" stroke-width="2.6"/>
<circle cx="611.10" cy="1655.60" r="7.8" fill="#fff" stroke="#000" stroke-width="2.6"/>
<circle cx="702.05" cy="1666.60" r="7.8" fill="#fff" stroke="#000" stroke-width="2.6"/>
<circle cx="793.00" cy="1641.00" r="7.8" fill="#fff" stroke="#000" stroke-width="2.6"/>
<circle cx="883.95" cy="1611.00" r="7.8" fill="#fff" stroke="#000" stroke-width="2.6"/>
<circle cx="974.90" cy="1555.70" r="7.8" fill="#fff" stroke="#000" stroke-width="2.6"/>
<circle cx="1065.85" cy="1561.30" r="7.8" fill="#fff" stroke="#000" stroke-width="2.6"/>
<circle cx="1156.80" cy="1506.70" r="7.8" fill="#fff" stroke="#000" stroke-width="2.6"/>
<circle cx="1247.75" cy="1526.60" r="7.8" fill="#fff" stroke="#000" stroke-width="2.6"/>
<polygon points="247.30,1796.70 250.22,1803.48 257.57,1804.16 252.02,1809.04 253.65,1816.24 247.30,1812.47 240.95,1816.24 242.58,1809.04 237.03,1804.16 244.38,1803.48" fill="#000"/>
<polygon points="338.25,1795.20 341.17,1801.98 348.52,1802.66 342.97,1807.54 344.60,1814.74 338.25,1810.97 331.90,1814.74 333.53,1807.54 327.98,1802.66 335.33,1801.98" fill="#000"/>
<polygon points="429.20,1839.20 432.12,1845.98 439.47,1846.66 433.92,1851.54 435.55,1858.74 429.20,1854.97 422.85,1858.74 424.48,1851.54 418.93,1846.66 426.28,1845.98" fill="#000"/>
<polygon points="520.15,1718.20 523.07,1724.98 530.42,1725.66 524.87,1730.54 526.50,1737.74 520.15,1733.97 513.80,1737.74 515.43,1730.54 509.88,1725.66 517.23,1724.98" fill="#000"/>
<polygon points="611.10,1724.20 614.02,1730.98 621.37,1731.66 615.82,1736.54 617.45,1743.74 611.10,1739.97 604.75,1743.74 606.38,1736.54 600.83,1731.66 608.18,1730.98" fill="#000"/>
<polygon points="702.05,1639.20 704.97,1645.98 712.32,1646.66 706.77,1651.54 708.40,1658.74 702.05,1654.97 695.70,1658.74 697.33,1651.54 691.78,1646.66 699.13,1645.98" fill="#000"/>
<polygon points="793.00,1659.20 795.92,1665.98 803.27,1666.66 797.72,1671.54 799.35,1678.74 793.00,1674.97 786.65,1678.74 788.28,1671.54 782.73,1666.66 790.08,1665.98" fill="#000"/>
<polygon points="883.95,1622.20 886.87,1628.98 894.22,1629.66 888.67,1634.54 890.30,1641.74 883.95,1637.97 877.60,1641.74 879.23,1634.54 873.68,1629.66 881.03,1628.98" fill="#000"/>
<polygon points="974.90,1638.20 977.82,1644.98 985.17,1645.66 979.62,1650.54 981.25,1657.74 974.90,1653.97 968.55,1657.74 970.18,1650.54 964.63,1645.66 971.98,1644.98" fill="#000"/>
<polygon points="1065.85,1666.20 1068.77,1672.98 1076.12,1673.66 1070.57,1678.54 1072.20,1685.74 1065.85,1681.97 1059.50,1685.74 1061.13,1678.54 1055.58,1673.66 1062.93,1672.98" fill="#000"/>
<polygon points="1156.80,1739.70 1159.72,1746.48 1167.07,1747.16 1161.52,1752.04 1163.15,1759.24 1156.80,1755.47 1150.45,1759.24 1152.08,1752.04 1146.53,1747.16 1153.88,1746.48" fill="#000"/>
<polygon points="1247.75,1756.20 1250.67,1762.98 1258.02,1763.66 1252.47,1768.54 1254.10,1775.74 1247.75,1771.97 1241.40,1775.74 1243.03,1768.54 1237.48,1763.66 1244.83,1762.98" fill="#000"/>
<circle cx="247.30" cy="1838.00" r="9.2" fill="#000"/>
<circle cx="338.25" cy="1807.00" r="9.2" fill="#000"/>
<circle cx="429.20" cy="1831.00" r="9.2" fill="#000"/>
<circle cx="520.15" cy="1757.00" r="9.2" fill="#000"/>
<circle cx="611.10" cy="1688.00" r="9.2" fill="#000"/>
<circle cx="702.05" cy="1641.00" r="9.2" fill="#000"/>
<circle cx="793.00" cy="1648.00" r="9.2" fill="#000"/>
<circle cx="883.95" cy="1655.00" r="9.2" fill="#000"/>
<circle cx="974.90" cy="1600.00" r="9.2" fill="#000"/>
<circle cx="1065.85" cy="1545.60" r="9.2" fill="#000"/>
<circle cx="1156.80" cy="1558.40" r="9.2" fill="#000"/>
<circle cx="1247.75" cy="1479.40" r="9.2" fill="#000"/>
<polygon points="247.30,1821.40 257.60,1838.80 237.00,1838.80" fill="#000" stroke="#000" stroke-width="1" stroke-linejoin="round"/>
<polygon points="338.25,1842.00 348.55,1859.40 327.95,1859.40" fill="#000" stroke="#000" stroke-width="1" stroke-linejoin="round"/>
<polygon points="429.20,1840.10 439.50,1857.50 418.90,1857.50" fill="#000" stroke="#000" stroke-width="1" stroke-linejoin="round"/>
<polygon points="520.15,1825.60 530.45,1843.00 509.85,1843.00" fill="#000" stroke="#000" stroke-width="1" stroke-linejoin="round"/>
<polygon points="611.10,1792.70 621.40,1810.10 600.80,1810.10" fill="#000" stroke="#000" stroke-width="1" stroke-linejoin="round"/>
<polygon points="702.05,1826.60 712.35,1844.00 691.75,1844.00" fill="#000" stroke="#000" stroke-width="1" stroke-linejoin="round"/>
<polygon points="793.00,1796.70 803.30,1814.10 782.70,1814.10" fill="#000" stroke="#000" stroke-width="1" stroke-linejoin="round"/>
<polygon points="883.95,1847.30 894.25,1864.70 873.65,1864.70" fill="#000" stroke="#000" stroke-width="1" stroke-linejoin="round"/>
<polygon points="974.90,1824.20 985.20,1841.60 964.60,1841.60" fill="#000" stroke="#000" stroke-width="1" stroke-linejoin="round"/>
<polygon points="1065.85,1838.20 1076.15,1855.60 1055.55,1855.60" fill="#000" stroke="#000" stroke-width="1" stroke-linejoin="round"/>
<polygon points="1156.80,1818.20 1167.10,1835.60 1146.50,1835.60" fill="#000" stroke="#000" stroke-width="1" stroke-linejoin="round"/>
<polygon points="1247.75,1815.20 1258.05,1832.60 1237.45,1832.60" fill="#000" stroke="#000" stroke-width="1" stroke-linejoin="round"/>
<line x1="247.30" y1="1782.6" x2="247.30" y2="1859.4" stroke="#000" stroke-width="2.6"/>
<line x1="247.30" y1="1882.3" x2="247.30" y2="1933.4" stroke="#000" stroke-width="2.6"/>
<line x1="237.00" y1="1782.6" x2="257.60" y2="1782.6" stroke="#000" stroke-width="2.8" stroke-linecap="round"/>
<line x1="237.00" y1="1819.4" x2="257.60" y2="1819.4" stroke="#000" stroke-width="2.8" stroke-linecap="round"/>
<line x1="237.00" y1="1859.4" x2="257.60" y2="1859.4" stroke="#000" stroke-width="2.8" stroke-linecap="round"/>
<line x1="237.00" y1="1933.4" x2="257.60" y2="1933.4" stroke="#000" stroke-width="2.8" stroke-linecap="round"/>
<line x1="338.25" y1="1773.6" x2="338.25" y2="1881.4" stroke="#000" stroke-width="2.6"/>
<line x1="327.95" y1="1773.6" x2="348.55" y2="1773.6" stroke="#000" stroke-width="2.8" stroke-linecap="round"/>
<line x1="327.95" y1="1789.4" x2="348.55" y2="1789.4" stroke="#000" stroke-width="2.8" stroke-linecap="round"/>
<line x1="327.95" y1="1881.4" x2="348.55" y2="1881.4" stroke="#000" stroke-width="2.8" stroke-linecap="round"/>
<line x1="429.20" y1="1800.4" x2="429.20" y2="1878" stroke="#000" stroke-width="2.6"/>
<line x1="418.90" y1="1800.4" x2="439.50" y2="1800.4" stroke="#000" stroke-width="2.8" stroke-linecap="round"/>
<line x1="418.90" y1="1867" x2="439.50" y2="1867" stroke="#000" stroke-width="2.8" stroke-linecap="round"/>
<line x1="418.90" y1="1878" x2="439.50" y2="1878" stroke="#000" stroke-width="2.8" stroke-linecap="round"/>
<line x1="520.15" y1="1701.4" x2="520.15" y2="1757" stroke="#000" stroke-width="2.6"/>
<line x1="520.15" y1="1808.7" x2="520.15" y2="1862" stroke="#000" stroke-width="2.6"/>
<line x1="509.85" y1="1701.4" x2="530.45" y2="1701.4" stroke="#000" stroke-width="2.8" stroke-linecap="round"/>
<line x1="509.85" y1="1852.9" x2="530.45" y2="1852.9" stroke="#000" stroke-width="2.8" stroke-linecap="round"/>
<line x1="509.85" y1="1862" x2="530.45" y2="1862" stroke="#000" stroke-width="2.8" stroke-linecap="round"/>
<line x1="611.10" y1="1654" x2="611.10" y2="1688" stroke="#000" stroke-width="2.6"/>
<line x1="611.10" y1="1707" x2="611.10" y2="1734" stroke="#000" stroke-width="2.6"/>
<line x1="611.10" y1="1802" x2="611.10" y2="1832" stroke="#000" stroke-width="2.6"/>
<line x1="600.80" y1="1654" x2="621.40" y2="1654" stroke="#000" stroke-width="2.8" stroke-linecap="round"/>
<line x1="600.80" y1="1682" x2="621.40" y2="1682" stroke="#000" stroke-width="2.8" stroke-linecap="round"/>
<line x1="600.80" y1="1707" x2="621.40" y2="1707" stroke="#000" stroke-width="2.8" stroke-linecap="round"/>
<line x1="600.80" y1="1832" x2="621.40" y2="1832" stroke="#000" stroke-width="2.8" stroke-linecap="round"/>
<line x1="702.05" y1="1611.6" x2="702.05" y2="1641" stroke="#000" stroke-width="2.6"/>
<line x1="702.05" y1="1675.3" x2="702.05" y2="1696.6" stroke="#000" stroke-width="2.6"/>
<line x1="702.05" y1="1835" x2="702.05" y2="1875.7" stroke="#000" stroke-width="2.6"/>
<line x1="691.75" y1="1611.6" x2="712.35" y2="1611.6" stroke="#000" stroke-width="2.8" stroke-linecap="round"/>
<line x1="691.75" y1="1624" x2="712.35" y2="1624" stroke="#000" stroke-width="2.8" stroke-linecap="round"/>
<line x1="691.75" y1="1696.6" x2="712.35" y2="1696.6" stroke="#000" stroke-width="2.8" stroke-linecap="round"/>
<line x1="691.75" y1="1875.7" x2="712.35" y2="1875.7" stroke="#000" stroke-width="2.8" stroke-linecap="round"/>
<line x1="793.00" y1="1635" x2="793.00" y2="1677" stroke="#000" stroke-width="2.6"/>
<line x1="793.00" y1="1805.5" x2="793.00" y2="1849.1" stroke="#000" stroke-width="2.6"/>
<line x1="782.70" y1="1635" x2="803.30" y2="1635" stroke="#000" stroke-width="2.8" stroke-linecap="round"/>
<line x1="782.70" y1="1677" x2="803.30" y2="1677" stroke="#000" stroke-width="2.8" stroke-linecap="round"/>
<line x1="782.70" y1="1849.1" x2="803.30" y2="1849.1" stroke="#000" stroke-width="2.8" stroke-linecap="round"/>
<line x1="883.95" y1="1611" x2="883.95" y2="1655" stroke="#000" stroke-width="2.6"/>
<line x1="883.95" y1="1856" x2="883.95" y2="1886.3" stroke="#000" stroke-width="2.6"/>
<line x1="873.65" y1="1611.6" x2="894.25" y2="1611.6" stroke="#000" stroke-width="2.8" stroke-linecap="round"/>
<line x1="873.65" y1="1621" x2="894.25" y2="1621" stroke="#000" stroke-width="2.8" stroke-linecap="round"/>
<line x1="873.65" y1="1640" x2="894.25" y2="1640" stroke="#000" stroke-width="2.8" stroke-linecap="round"/>
<line x1="873.65" y1="1886.3" x2="894.25" y2="1886.3" stroke="#000" stroke-width="2.8" stroke-linecap="round"/>
<line x1="974.90" y1="1564.4" x2="974.90" y2="1600" stroke="#000" stroke-width="2.6"/>
<line x1="974.90" y1="1621.7" x2="974.90" y2="1650" stroke="#000" stroke-width="2.6"/>
<line x1="974.90" y1="1833" x2="974.90" y2="1872" stroke="#000" stroke-width="2.6"/>
<line x1="964.60" y1="1581.8" x2="985.20" y2="1581.8" stroke="#000" stroke-width="2.8" stroke-linecap="round"/>
<line x1="964.60" y1="1600" x2="985.20" y2="1600" stroke="#000" stroke-width="2.8" stroke-linecap="round"/>
<line x1="964.60" y1="1621.7" x2="985.20" y2="1621.7" stroke="#000" stroke-width="2.8" stroke-linecap="round"/>
<line x1="964.60" y1="1872" x2="985.20" y2="1872" stroke="#000" stroke-width="2.8" stroke-linecap="round"/>
<line x1="1065.85" y1="1504" x2="1065.85" y2="1545.6" stroke="#000" stroke-width="2.6"/>
<line x1="1065.85" y1="1570" x2="1065.85" y2="1600.7" stroke="#000" stroke-width="2.6"/>
<line x1="1065.85" y1="1644.2" x2="1065.85" y2="1677" stroke="#000" stroke-width="2.6"/>
<line x1="1065.85" y1="1847" x2="1065.85" y2="1887.7" stroke="#000" stroke-width="2.6"/>
<line x1="1055.55" y1="1504" x2="1076.15" y2="1504" stroke="#000" stroke-width="2.8" stroke-linecap="round"/>
<line x1="1055.55" y1="1600.7" x2="1076.15" y2="1600.7" stroke="#000" stroke-width="2.8" stroke-linecap="round"/>
<line x1="1055.55" y1="1644.2" x2="1076.15" y2="1644.2" stroke="#000" stroke-width="2.8" stroke-linecap="round"/>
<line x1="1055.55" y1="1887.7" x2="1076.15" y2="1887.7" stroke="#000" stroke-width="2.8" stroke-linecap="round"/>
<line x1="1156.80" y1="1515.4" x2="1156.80" y2="1558.4" stroke="#000" stroke-width="2.6"/>
<line x1="1156.80" y1="1724.8" x2="1156.80" y2="1751" stroke="#000" stroke-width="2.6"/>
<line x1="1156.80" y1="1827" x2="1156.80" y2="1856.6" stroke="#000" stroke-width="2.6"/>
<line x1="1146.50" y1="1527.3" x2="1167.10" y2="1527.3" stroke="#000" stroke-width="2.8" stroke-linecap="round"/>
<line x1="1146.50" y1="1724.8" x2="1167.10" y2="1724.8" stroke="#000" stroke-width="2.8" stroke-linecap="round"/>
<line x1="1146.50" y1="1856.6" x2="1167.10" y2="1856.6" stroke="#000" stroke-width="2.8" stroke-linecap="round"/>
<line x1="1247.75" y1="1439.4" x2="1247.75" y2="1479.4" stroke="#000" stroke-width="2.6"/>
<line x1="1247.75" y1="1535.3" x2="1247.75" y2="1567.3" stroke="#000" stroke-width="2.6"/>
<line x1="1247.75" y1="1727.3" x2="1247.75" y2="1766" stroke="#000" stroke-width="2.6"/>
<line x1="1247.75" y1="1824" x2="1247.75" y2="1848.9" stroke="#000" stroke-width="2.6"/>
<line x1="1237.45" y1="1439.4" x2="1258.05" y2="1439.4" stroke="#000" stroke-width="2.8" stroke-linecap="round"/>
<line x1="1237.45" y1="1567.3" x2="1258.05" y2="1567.3" stroke="#000" stroke-width="2.8" stroke-linecap="round"/>
<line x1="1237.45" y1="1727.3" x2="1258.05" y2="1727.3" stroke="#000" stroke-width="2.8" stroke-linecap="round"/>
<line x1="1237.45" y1="1848.9" x2="1258.05" y2="1848.9" stroke="#000" stroke-width="2.8" stroke-linecap="round"/>
<text x="690.60" y="1535.00" font-size="29" text-anchor="start" >&</text>
<text x="689.60" y="1570.00" font-size="29" text-anchor="start" >@</text>
<text x="781.00" y="1563.40" font-size="29" text-anchor="start" >&</text>
<text x="780.00" y="1599.00" font-size="29" text-anchor="start" >@</text>
<text x="867.00" y="1487.00" font-size="29" text-anchor="start" >+</text>
<text x="867.00" y="1519.00" font-size="29" text-anchor="start" >&</text>
<text x="866.00" y="1554.00" font-size="29" text-anchor="start" >@</text>
<text x="961.30" y="1432.70" font-size="29" text-anchor="start" >+</text>
<text x="961.30" y="1464.30" font-size="29" text-anchor="start" >&</text>
<text x="960.30" y="1496.70" font-size="29" text-anchor="start" >@</text>
<text x="1052.70" y="1369.90" font-size="29" text-anchor="start" >+</text>
<text x="1052.70" y="1401.40" font-size="29" text-anchor="start" >&</text>
<text x="1051.70" y="1435.30" font-size="29" text-anchor="start" >@</text>
<path d="M1065.20,1706.40L1060.30,1727.80M1071.20,1706.40L1066.30,1727.80M1057.80,1713.60L1074.10,1713.60M1057.80,1720.80L1074.10,1720.80" stroke="#000" stroke-width="2.5" fill="none"/>
<text x="1057.50" y="1759.50" font-size="29" text-anchor="start" >$</text>
<text x="1139.90" y="1378.40" font-size="29" text-anchor="start" >+</text>
<text x="1139.90" y="1410.00" font-size="29" text-anchor="start" >&</text>
<path d="M1155.80,1652.70L1150.90,1674.10M1161.80,1652.70L1156.90,1674.10M1148.40,1659.90L1164.70,1659.90M1148.40,1667.10L1164.70,1667.10" stroke="#000" stroke-width="2.5" fill="none"/>
<text x="1148.50" y="1705.50" font-size="29" text-anchor="start" >$</text>
<text x="1237.00" y="1344.80" font-size="29" text-anchor="start" >+</text>
<text x="1237.00" y="1378.40" font-size="29" text-anchor="start" >&</text>
<path d="M1247.40,1652.70L1242.50,1674.10M1253.40,1652.70L1248.50,1674.10M1240.00,1659.90L1256.30,1659.90M1240.00,1667.10L1256.30,1667.10" stroke="#000" stroke-width="2.5" fill="none"/>
<text x="1239.50" y="1704.00" font-size="29" text-anchor="start" >$</text>
</g></svg></body></html>
